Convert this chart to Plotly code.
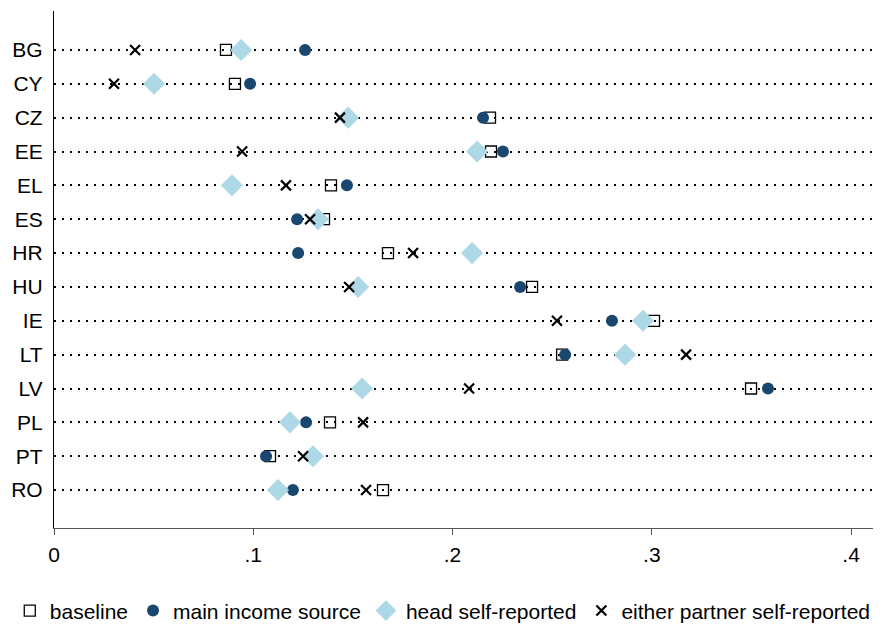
import plotly.graph_objects as go

countries = ["BG", "CY", "CZ", "EE", "EL", "ES", "HR", "HU", "IE", "LT", "LV", "PL", "PT", "RO"]

baseline = [0.0863, 0.0908, 0.2188, 0.2193, 0.1390, 0.1355, 0.1676, 0.2399,
            0.3011, 0.2550, 0.3498, 0.1385, 0.1084, 0.1651]
main_income = [0.1260, 0.0984, 0.2153, 0.2253, 0.1470, 0.1220, 0.1225, 0.2339,
               0.2800, 0.2565, 0.3583, 0.1265, 0.1064, 0.1199]
head_self = [0.0939, 0.0502, 0.1476, 0.2123, 0.0893, 0.1325, 0.2098, 0.1526,
             0.2956, 0.2866, 0.1546, 0.1184, 0.1300, 0.1124]
either_partner = [0.0407, 0.0301, 0.1435, 0.0944, 0.1164, 0.1285, 0.1802, 0.1481,
                  0.2524, 0.3172, 0.2083, 0.1551, 0.1250, 0.1566]

x_ticks = [0, 0.1, 0.2, 0.3, 0.4]
x_labels = ["0", ".1", ".2", ".3", ".4"]

font = "Liberation Sans, Arial, Helvetica, sans-serif"

fig = go.Figure()

fig.add_trace(go.Scatter(
    x=baseline, y=countries, mode="markers", name="baseline",
    marker=dict(symbol="square-open", size=11, color="black", line=dict(width=1.3)),
))
fig.add_trace(go.Scatter(
    x=main_income, y=countries, mode="markers", name="main income source",
    marker=dict(symbol="circle", size=12, color="#1a476f", line=dict(width=0)),
))
fig.add_trace(go.Scatter(
    x=head_self, y=countries, mode="markers", name="head self-reported",
    marker=dict(symbol="diamond", size=17, color="#add8e6", line=dict(width=0)),
))
fig.add_trace(go.Scatter(
    x=either_partner, y=countries, mode="markers", name="either partner self-reported",
    marker=dict(symbol="x-thin", size=10, color="black", line=dict(width=2.2, color="black")),
))

fig.update_layout(
    width=885, height=625,
    margin=dict(l=54, r=12, t=11, b=97, autoexpand=False),
    plot_bgcolor="white", paper_bgcolor="white",
    font=dict(family=font, size=21, color="black"),
    showlegend=True,
    legend=dict(
        orientation="h", x=-0.054, xanchor="left", y=-0.2, yanchor="bottom",
        font=dict(size=21), itemwidth=30, tracegroupgap=0,
        traceorder="normal",
    ),
)

fig.update_xaxes(
    range=[0, 0.411],
    tickvals=x_ticks, ticktext=x_labels,
    showgrid=False, zeroline=False,
    showline=True, linecolor="#555555", linewidth=1.3,
    ticks="outside", ticklen=6, tickcolor="#555555", tickwidth=1,
    tickfont=dict(size=21), ticklabelstandoff=2,
)

fig.update_yaxes(
    type="category", categoryorder="array", categoryarray=countries,
    range=[14.12, -1.15],
    showgrid=True, gridcolor="black", gridwidth=1.6, griddash="1.6px,6.4px",
    zeroline=False,
    showline=True, linecolor="black", linewidth=1.3,
    ticks="", tickfont=dict(size=21), ticklabelstandoff=6,
)

# page has a default 8px body margin, drop it so the figure fills the window
fig.write_html("out.html", config={"displayModeBar": False},
               post_script="document.body.style.margin='0';")
